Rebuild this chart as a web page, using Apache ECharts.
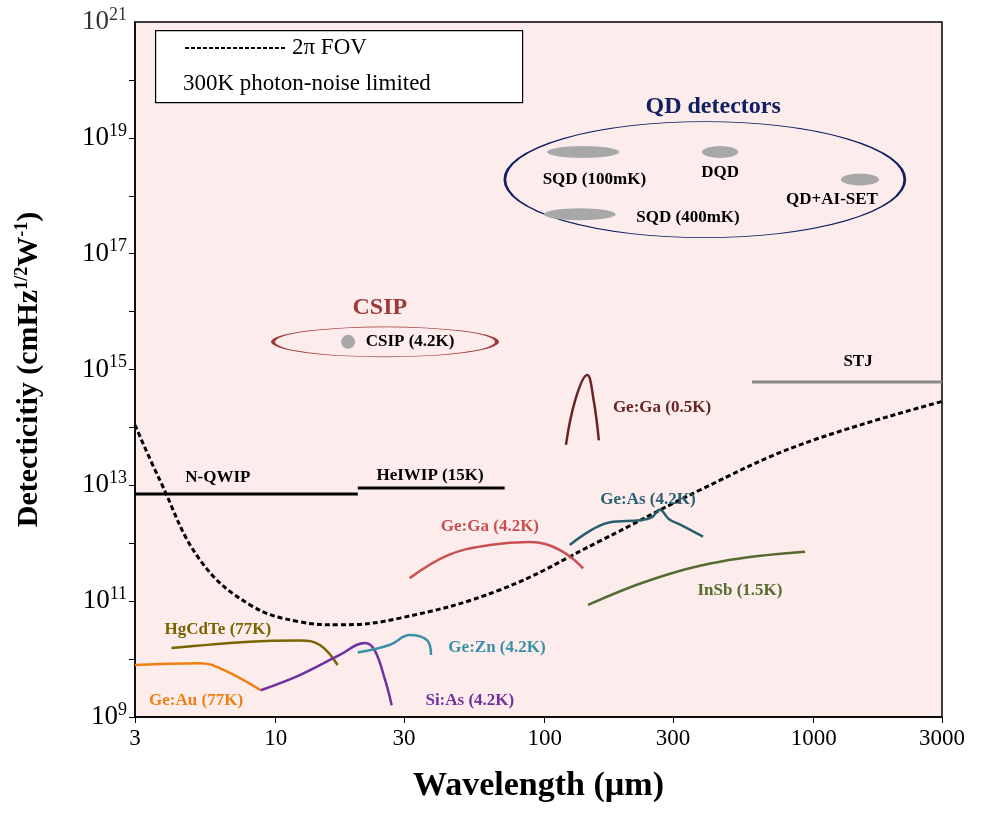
<!DOCTYPE html>
<html><head><meta charset="utf-8">
<script src="https://cdn.jsdelivr.net/npm/echarts@6/dist/echarts.min.js"></script>
<style>html,body{margin:0;padding:0;background:#fff}#c{width:987px;height:813px}</style>
</head><body><div id="c"></div>
<script>
const xTicks=[3,10,30,100,300,1000,3000];
const yTicks=[1e9,1e11,1e13,1e15,1e17,1e19,1e21];
const yMinor=[1e9,1e10,1e11,1e12,1e13,1e14,1e15,1e16,1e17,1e18,1e19,1e20,1e21];
const fov=[[3,1.1e14],[3.72,1.2e13],[5.24,5.1e11],[8.04,8.6e10],[12.3,4.4e10],[17.3,3.9e10],[29,5.1e10],[68,1.56e11],[161,1.1e12],[378,8.3e12],[889,5e13],[3000,2.8e14]];
const nqwip=[[3,7.1e12],[20.2,7.1e12]];
const heiwip=[[20.2,9e12],[71,9e12]];
const stj=[[590,6.1e14],[3000,6.1e14]];
const geGa05=[[120,5e13],[130,3e14],[144,8e14],[152,3e14],[159,6e13]];
const geGa42=[[31.5,2.5e11],[44,6.3e11],[62.6,9.3e11],[88,1.05e12],[114,7.6e11],[139,3.7e11]];
const geAs=[[124,9.3e11],[175,2.3e12],[226,2.5e12],[250,2.8e12],[268,3.8e12],[290,2.6e12],[319,2.1e12],[388,1.3e12]];
const insb=[[145,8.6e10],[246,2.3e11],[449,4.8e11],[929,7.1e11]];
const hgcdte=[[4.1,1.55e10],[8,2.0e10],[12.3,2.1e10],[14.6,1.75e10],[17,7.9e9]];
const geAu=[[3,7.9e9],[5.24,8.5e9],[6.4,6.5e9],[8.8,2.9e9]];
const siAs=[[8.8,2.9e9],[12.3,5.3e9],[17.3,1.18e10],[21.5,1.9e10],[23.3,1.44e10],[25.5,4.4e9],[27,1.6e9]];
const geZn=[[20.2,1.3e10],[26.5,1.75e10],[31.5,2.6e10],[36.6,2.1e10],[37.8,1.18e10]];
const ellipses=[{c:[25.5,3e15],s:[224,30],col:'#a03a3a'},{c:[394,1.9e18],s:[400,116],col:'#102060'}];
const blobs=[{c:[139,5.7e18],s:[72,12]},{c:[449,5.7e18],s:[36,12]},{c:[1486,1.9e18],s:[38,12]},{c:[135,4.8e17],s:[72,12]},{c:[18.6,3e15],s:[14,14]}];
const labels=[
['N-QWIP',6.1,1.35e13,'#000',17],['HeIWIP (15K)',37.5,1.5e13,'#000',17],['STJ',1462,1.35e15,'#000',17],
['Ge:Ga (0.5K)',273,2.2e14,'#6b2424',17],['Ge:As (4.2K)',242,5.6e12,'#2a5f70',17],['Ge:Ga (4.2K)',62.6,1.9e12,'#c85050',17],
['InSb (1.5K)',532,1.55e11,'#556b2f',17],['HgCdTe (77K)',6.1,3.2e10,'#7a6400',17],['Ge:Zn (4.2K)',66.5,1.55e10,'#3a8fa8',17],
['Ge:Au (77K)',5.06,1.9e9,'#f07f10',17],['Si:As (4.2K)',52.7,1.9e9,'#7030a0',17],['CSIP (4.2K)',31.6,3e15,'#000',17],
['CSIP',24.4,1.16e16,'#a03a3a',24],['QD detectors',423,3.4e19,'#102060',24],['SQD (100mK)',153,1.9e18,'#000',17],
['DQD',449,2.5e18,'#000',17],['QD+AI-SET',1170,8.5e17,'#000',17],['SQD (400mK)',341,4.2e17,'#000',17]];
const F='Liberation Serif';
const tickRich={b:{fontFamily:F,fontSize:27,color:'#000'},s:{fontFamily:F,fontSize:18,color:'#000',verticalAlign:'top',padding:[0,0,14,0]}};
const fmtY=v=>'{b|10}{s|'+Math.round(Math.log10(v))+'}';
function ln(d,c,w,dash){return {type:'line',data:d,symbol:'none',smooth:0.4,lineStyle:{color:c,width:w||2.5,type:dash||'solid'},z:3};}
const series=[
ln(fov,'#000',3,[5,3]),
{...ln(nqwip,'#000',3),smooth:false},{...ln(heiwip,'#000',3),smooth:false},{...ln(stj,'#888',3),smooth:false},
ln(geGa05,'#6b2424'),ln(geGa42,'#c85050'),ln(geAs,'#2a5f70'),ln(insb,'#556b2f'),ln(hgcdte,'#7a6400'),
ln(geAu,'#f07f10'),ln(siAs,'#7030a0'),ln(geZn,'#3a8fa8'),
...ellipses.map(e=>({type:'scatter',data:[e.c],symbol:'circle',symbolSize:e.s,itemStyle:{opacity:1,color:'rgba(0,0,0,0)',borderColor:e.col,borderWidth:1.5},silent:true,z:2})),
...blobs.map(b=>({type:'scatter',data:[b.c],symbol:'circle',symbolSize:b.s,itemStyle:{opacity:1,color:'#a8a8a8'},silent:true,z:2})),
{type:'scatter',symbolSize:0,itemStyle:{opacity:1},data:labels.map(l=>({value:[l[1],l[2]],label:{show:true,position:'inside',formatter:l[0],color:l[3],fontSize:l[4],fontWeight:'bold',fontFamily:F}})),z:5,silent:true},
{type:'scatter',symbolSize:0,clip:false,silent:true,data:[{value:[3,yTicks[yTicks.length-1]],label:{show:true,position:'left',distance:8,formatter:fmtY(yTicks[yTicks.length-1]),rich:tickRich}}]}
];
const chart=echarts.init(document.getElementById('c'));
chart.setOption({animation:false,
grid:{left:135,right:45,top:22,bottom:96,show:true,backgroundColor:'#fcecec',borderColor:'#000',borderWidth:1.5},
xAxis:{type:'log',min:3,max:3000,name:'Wavelength (µm)',nameLocation:'middle',nameGap:52,
 nameTextStyle:{fontFamily:F,fontSize:34,fontWeight:'bold',color:'#000'},
 axisLine:{lineStyle:{color:'#000',width:1.5}},splitLine:{show:false},minorTick:{show:false},
 axisTick:{customValues:xTicks,length:6,lineStyle:{color:'#000'}},
 axisLabel:{customValues:xTicks,formatter:v=>String(v),fontFamily:F,fontSize:23,color:'#000',margin:10}},
yAxis:{type:'log',min:1e9,max:1e21,name:'{a|Detecticitiy (cmHz}{s|1/2}{a|W}{s|-1}{a|)}',nameLocation:'middle',nameGap:90,
 nameTextStyle:{rich:{a:{fontFamily:F,fontSize:30,fontWeight:'bold',color:'#000'},s:{fontFamily:F,fontSize:18,fontWeight:'bold',color:'#000',verticalAlign:'top',padding:[0,0,14,0]}}},
 axisLine:{lineStyle:{color:'#000',width:1.5}},splitLine:{show:false},
 axisTick:{customValues:yMinor,length:6,lineStyle:{color:'#000'}},
 axisLabel:{customValues:yTicks,showMaxLabel:true,showMinLabel:true,formatter:fmtY,rich:tickRich}},
series:series,
graphic:[
{type:'rect',left:155,top:30,shape:{width:367,height:72},style:{fill:'#fff',stroke:'#000',lineWidth:1.2},z:10},
{type:'line',shape:{x1:185,y1:48,x2:285,y2:48},style:{stroke:'#000',lineWidth:2,lineDash:[4,2]},z:11},
{type:'text',left:292,top:36,style:{text:'2π FOV',font:'23px "Liberation Serif"',fill:'#000'},z:11},
{type:'text',left:183,top:72,style:{text:'300K photon-noise limited',font:'23px "Liberation Serif"',fill:'#000'},z:11}
]});
</script></body></html>
